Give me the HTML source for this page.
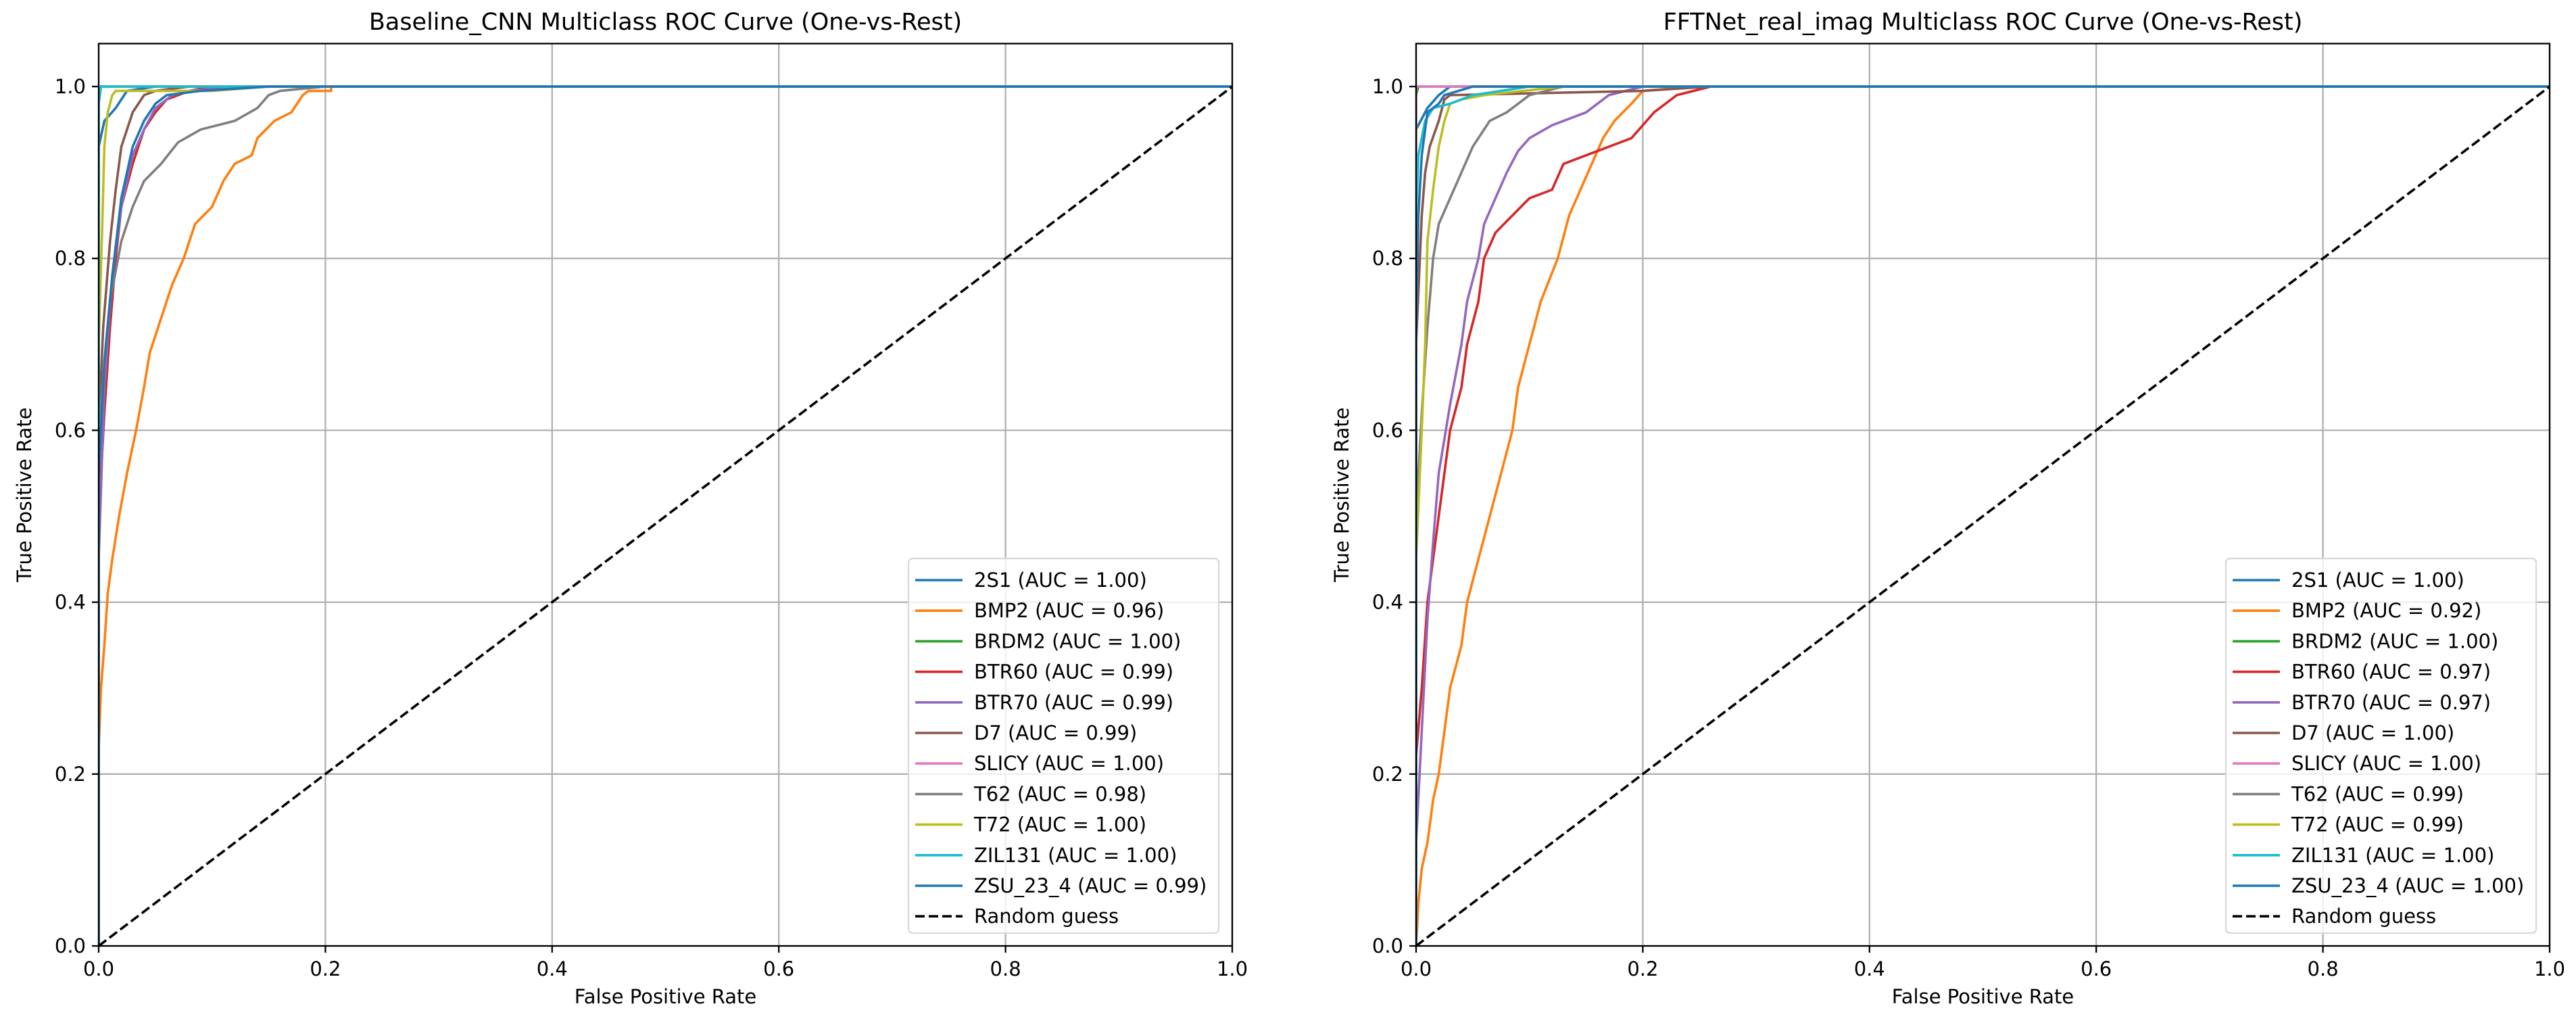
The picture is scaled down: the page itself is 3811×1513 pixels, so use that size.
<!DOCTYPE html>
<html><head><meta charset="utf-8"><style>
html,body{margin:0;padding:0;background:#fff;}
svg{display:block;font-family:"DejaVu Sans","Liberation Sans",sans-serif;}
</style></head><body>
<svg id="fig" width="3811" height="1513" viewBox="0 0 3811 1513" xmlns="http://www.w3.org/2000/svg"></svg>
<script>
const classNames = ["2S1","BMP2","BRDM2","BTR60","BTR70","D7","SLICY","T62","T72","ZIL131","ZSU_23_4"];
const colors = ["#1f77b4","#ff7f0e","#2ca02c","#d62728","#9467bd","#8c564b","#e377c2","#7f7f7f","#bcbd22","#17becf","#1f77b4"];
const xTicks = [0,0.2,0.4,0.6,0.8,1.0];
const yTicks = [0,0.2,0.4,0.6,0.8,1.0];
const tickLabels = ["0.0","0.2","0.4","0.6","0.8","1.0"];

const baseAuc = ["1.00","0.96","1.00","0.99","0.99","0.99","1.00","0.98","1.00","1.00","0.99"];
const baseFpr = [
 [0,0.005,0.015,0.02,0.025,0.05,1],
 [0,0,0.002,0.005,0.008,0.012,0.018,0.025,0.033,0.04,0.045,0.055,0.065,0.075,0.085,0.1,0.11,0.12,0.135,0.14,0.155,0.17,0.18,0.185,0.205,0.205,1],
 [0,0,0.001,1],
 [0,0,0.005,0.01,0.015,0.02,0.03,0.04,0.05,0.06,0.08,0.1,1],
 [0,0,0.005,0.012,0.02,0.03,0.04,0.05,0.065,0.08,0.12,1],
 [0,0,0.004,0.01,0.015,0.02,0.03,0.04,0.05,0.08,1],
 [0,0,1],
 [0,0,0.01,0.02,0.03,0.04,0.055,0.07,0.09,0.12,0.14,0.15,0.16,0.2,1],
 [0,0,0.003,0.005,0.008,0.012,0.015,0.1,0.15,1],
 [0,0,0.002,1],
 [0,0,0.005,0.012,0.02,0.03,0.04,0.05,0.06,0.09,0.15,1]
];
const baseTpr = [
 [0.93,0.96,0.975,0.985,0.995,1,1],
 [0,0.23,0.3,0.35,0.41,0.45,0.5,0.55,0.6,0.65,0.69,0.73,0.77,0.8,0.84,0.86,0.89,0.91,0.92,0.94,0.96,0.97,0.99,0.995,0.995,1,1],
 [0,0.99,1,1],
 [0,0.5,0.62,0.72,0.8,0.86,0.91,0.95,0.97,0.985,0.995,1,1],
 [0,0.45,0.65,0.78,0.86,0.92,0.95,0.975,0.99,0.995,1,1],
 [0,0.6,0.72,0.82,0.88,0.93,0.97,0.99,0.995,1,1],
 [0,1,1],
 [0,0.6,0.75,0.82,0.86,0.89,0.91,0.935,0.95,0.96,0.975,0.99,0.995,1,1],
 [0,0.7,0.83,0.93,0.97,0.99,0.995,0.995,1,1],
 [0,0.98,1,1],
 [0,0.55,0.68,0.78,0.87,0.93,0.96,0.98,0.99,0.995,1,1]
];

const fftAuc = ["1.00","0.92","1.00","0.97","0.97","1.00","1.00","0.99","0.99","1.00","1.00"];
const fftFpr = [
 [0,0,0.01,0.02,0.03,1],
 [0,0.002,0.005,0.01,0.015,0.02,0.025,0.03,0.04,0.045,0.055,0.065,0.075,0.085,0.09,0.1,0.11,0.125,0.135,0.145,0.155,0.165,0.175,0.19,0.2,0.25,1],
 [0,0,0.002,1],
 [0,0,0.005,0.01,0.015,0.02,0.025,0.03,0.04,0.045,0.055,0.06,0.07,0.085,0.1,0.12,0.13,0.15,0.19,0.21,0.23,0.26,1],
 [0,0,0.005,0.01,0.015,0.02,0.03,0.04,0.045,0.055,0.06,0.07,0.08,0.09,0.1,0.12,0.15,0.17,0.2,1],
 [0,0,0.005,0.008,0.012,0.02,0.025,0.03,0.2,0.26,1],
 [0,0,1],
 [0,0,0.005,0.01,0.015,0.02,0.03,0.04,0.05,0.065,0.08,0.1,0.13,1],
 [0,0,0.005,0.008,0.01,0.015,0.02,0.025,0.03,0.04,0.06,0.13,1],
 [0,0,0.002,0.008,0.015,0.03,0.05,0.1,1],
 [0,0,0.002,0.005,0.01,0.02,0.025,0.05,1]
];
const fftTpr = [
 [0,0.95,0.975,0.99,1,1],
 [0,0.05,0.09,0.12,0.17,0.2,0.25,0.3,0.35,0.4,0.45,0.5,0.55,0.6,0.65,0.7,0.75,0.8,0.85,0.88,0.91,0.94,0.96,0.98,0.995,1,1],
 [0,0.99,1,1],
 [0,0.22,0.3,0.4,0.45,0.5,0.55,0.6,0.65,0.7,0.75,0.8,0.83,0.85,0.87,0.88,0.91,0.92,0.94,0.97,0.99,1,1],
 [0,0.12,0.25,0.38,0.47,0.55,0.63,0.7,0.75,0.8,0.84,0.87,0.9,0.925,0.94,0.955,0.97,0.99,1,1],
 [0,0.7,0.85,0.9,0.93,0.96,0.985,0.99,0.995,1,1],
 [0,1,1],
 [0,0.5,0.62,0.72,0.8,0.84,0.87,0.9,0.93,0.96,0.97,0.99,1,1],
 [0,0.45,0.6,0.7,0.82,0.88,0.93,0.96,0.98,0.985,0.99,1,1],
 [0,0.85,0.92,0.96,0.975,0.98,0.99,1,1],
 [0,0.72,0.85,0.92,0.97,0.98,0.99,1,1]
];

const NS="http://www.w3.org/2000/svg";
const svg=document.getElementById('fig');
function mk(tag,attrs,parent){const e=document.createElementNS(NS,tag);for(const k in attrs)e.setAttribute(k,attrs[k]);(parent||svg).appendChild(e);return e;}

function drawPanel(x0,x1,title,fprs,tprs,aucs,key){
  const yZero=1399, yOne=128;
  const sx=v=>x0+(x1-x0)*v;
  const sy=v=>yZero-(yZero-yOne)*v;
  const yTop=sy(1.05);
  const g=mk('g',{});
  
  
  const clipId=key+'-clip';
  const cp=mk('clipPath',{id:clipId},g);
  mk('rect',{x:x0,y:yTop,width:x1-x0,height:yZero-yTop},cp);
  xTicks.forEach((t,i)=>{
    const l=mk('line',{x1:sx(t),x2:sx(t),y1:yTop,y2:yZero,stroke:'#b0b0b0','stroke-width':2.3},g);
    
    
  });
  yTicks.forEach((t,i)=>{
    const l=mk('line',{x1:x0,x2:x1,y1:sy(t),y2:sy(t),stroke:'#b0b0b0','stroke-width':2.3},g);
    
    
  });
  const cg=mk('g',{'clip-path':'url(#'+clipId+')'},g);
  fprs.forEach((fx,i)=>{
    const pts=fx.map((v,j)=>sx(v).toFixed(1)+','+sy(tprs[i][j]).toFixed(1)).join(' ');
    const p=mk('polyline',{points:pts,fill:'none',stroke:colors[i],'stroke-width':3.6,'stroke-linejoin':'miter'},cg);
    
    
  });
  const d=mk('line',{x1:sx(0),y1:sy(0),x2:sx(1),y2:sy(1),stroke:'#000','stroke-width':3.6,'stroke-dasharray':'14,6'},cg);
  
  
  const fr=mk('rect',{x:x0,y:yTop,width:x1-x0,height:yZero-yTop,fill:'none',stroke:'#000','stroke-width':2.3},g);
  
  
  xTicks.forEach((t,i)=>{
    mk('line',{x1:sx(t),x2:sx(t),y1:yZero,y2:yZero+10,stroke:'#000','stroke-width':2.3},g);
    const tx=mk('text',{x:sx(t),y:yZero+44,'font-size':29,'text-anchor':'middle',fill:'#000'},g);
    tx.textContent=tickLabels[i];
    
    
  });
  yTicks.forEach((t,i)=>{
    mk('line',{x1:x0-10,x2:x0,y1:sy(t),y2:sy(t),stroke:'#000','stroke-width':2.3},g);
    const tx=mk('text',{x:x0-19,y:sy(t)+10,'font-size':29,'text-anchor':'end',fill:'#000'},g);
    tx.textContent=tickLabels[i];
    
    
  });
  const xl=mk('text',{x:(x0+x1)/2,y:1484,'font-size':29,'text-anchor':'middle'},g);
  xl.textContent='False Positive Rate';
  
  
  const yx=x0-100, yc=(yTop+yZero)/2;
  const yl=mk('text',{x:yx,y:yc,'font-size':29,'text-anchor':'middle',transform:'rotate(-90 '+yx+' '+yc+')'},g);
  yl.textContent='True Positive Rate';
  
  
  const tt=mk('text',{x:(x0+x1)/2,y:44,'font-size':35,'text-anchor':'middle'},g);
  tt.textContent=title;
  
  
  const lx=x1-479, ly=826, lw=459, lh=554;
  const lg=mk('g',{},g);
  
  
  mk('rect',{x:lx,y:ly,width:lw,height:lh,rx:6,fill:'#fff','fill-opacity':0.8,stroke:'#d9d9d9','stroke-width':2.3},lg);
  const labels=classNames.map((n,i)=>n+' (AUC = '+aucs[i]+')').concat(['Random guess']);
  labels.forEach((lab,i)=>{
    const cy=ly+32+i*45.2;
    const e=mk('g',{},lg);
    
    
    const attrs={x1:lx+10,x2:lx+80,y1:cy,y2:cy,stroke:i<11?colors[i]:'#000','stroke-width':3.6};
    if(i===11)attrs['stroke-dasharray']='14,6';
    mk('line',attrs,e);
    const t=mk('text',{x:lx+97,y:cy+10,'font-size':29,fill:'#000'},e);
    t.textContent=lab;
  });
}
drawPanel(146,1823,'Baseline_CNN Multiclass ROC Curve (One-vs-Rest)',baseFpr,baseTpr,baseAuc,'baseline');
drawPanel(2095,3772,'FFTNet_real_imag Multiclass ROC Curve (One-vs-Rest)',fftFpr,fftTpr,fftAuc,'fftnet');
</script>
</body></html>
